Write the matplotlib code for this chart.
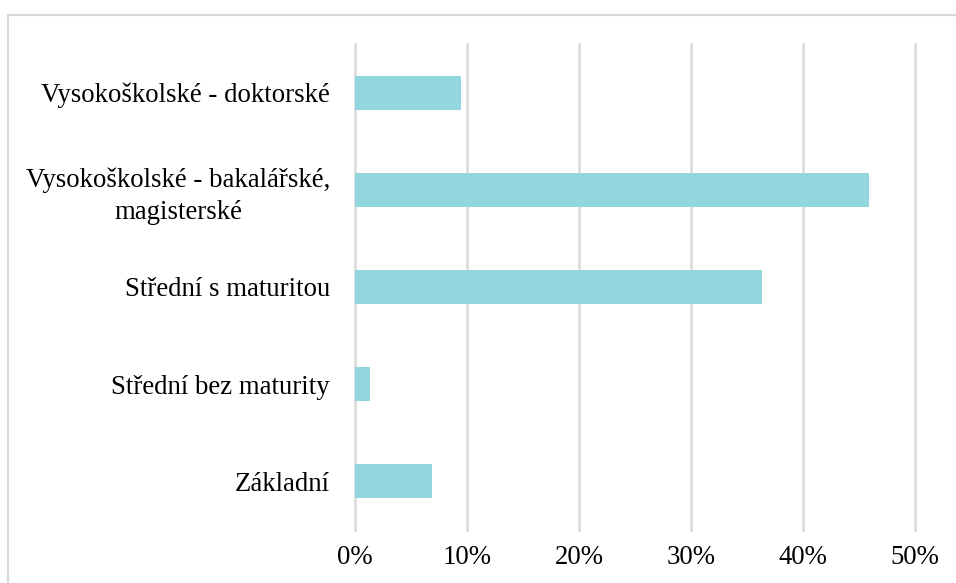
import matplotlib
matplotlib.use("Agg")
import matplotlib.pyplot as plt
from matplotlib.patches import Rectangle
from matplotlib.ticker import FuncFormatter

categories = ["Základní", "Střední bez maturity", "Střední s maturitou",
              "Vysokoškolské - bakalářské,\nmagisterské", "Vysokoškolské - doktorské"]
values = [6.9, 1.3, 36.3, 45.9, 9.5]
xticks = [0, 10, 20, 30, 40, 50]

plt.rcParams['font.family'] = ['Liberation Serif', 'DejaVu Serif']

fig = plt.figure(figsize=(9.56, 5.83), dpi=100)
ax = fig.add_axes([355/956, 1-530/583, (915-355)/956, (530-44)/583])

ax.barh(range(len(categories)), values, height=0.35, color="#92D7DE", zorder=3)
ax.set_xlim(0, 50)
ax.set_ylim(-0.5, len(categories)-0.5)
ax.set_xticks(xticks)
ax.xaxis.set_major_formatter(FuncFormatter(lambda v, p: f"{v:.0f}%"))
ax.set_yticks(range(len(categories)))
ax.set_yticklabels(categories, multialignment='center', linespacing=1.35)
ax.grid(axis='x', color="#D9D9D9", linewidth=1.8, zorder=0)
for gl in ax.get_xgridlines():
    gl.set_clip_on(False)
for s in ax.spines.values():
    s.set_visible(False)
ax.tick_params(axis='both', length=0, labelsize=19.3, colors='black')
ax.tick_params(axis='x', pad=11)
ax.tick_params(axis='y', pad=18)

fig.patches.append(Rectangle((8/956, -0.1), 1.2, 1.1 - 15/583, transform=fig.transFigure,
                             fill=False, edgecolor="#D9D9D9", linewidth=1.5, clip_on=False))

fig.savefig("out.png", dpi=100)
